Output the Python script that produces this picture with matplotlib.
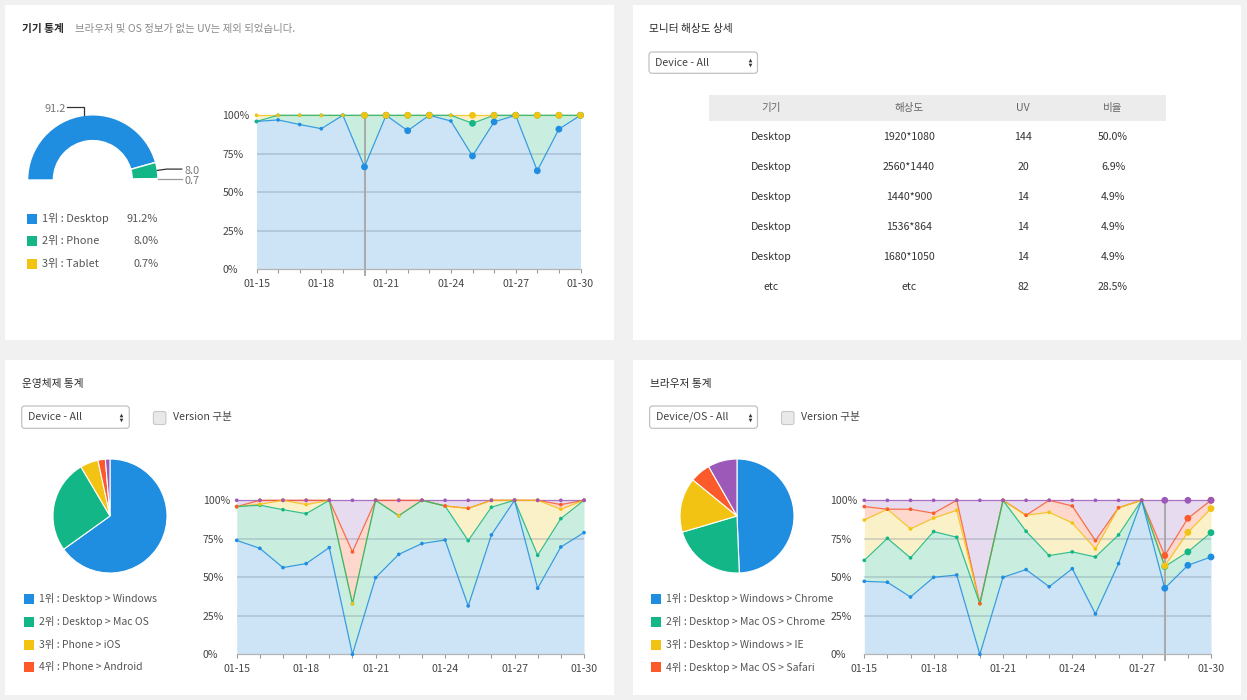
import numpy as np
import matplotlib
matplotlib.use("Agg")
import matplotlib.pyplot as plt
from matplotlib.patches import Rectangle, FancyBboxPatch

plt.rcParams['font.family'] = ['Noto Sans CJK KR', 'DejaVu Sans']

W, H = 1247, 700

# ---------------------------------------------------------------- data
dates = ['01-15', '01-16', '01-17', '01-18', '01-19', '01-20', '01-21', '01-22',
         '01-23', '01-24', '01-25', '01-26', '01-27', '01-28', '01-29', '01-30']

# 기기 통계 (device)
device_names = ['Desktop', 'Phone', 'Tablet']
device_share = [91.2, 8.0, 0.7]
device_desktop = [96.0, 97.0, 94.0, 91.3, 100.0, 66.5, 100.0, 90.0, 100.0, 96.3, 73.6, 95.7, 100.0, 64.0, 91.0, 100.0]
device_phone = [0.0, 3.0, 6.0, 8.7, 0.0, 33.5, 0.0, 10.0, 0.0, 3.7, 21.2, 4.3, 0.0, 36.0, 9.0, 0.0]
device_tablet = [4.0, 0.0, 0.0, 0.0, 0.0, 0.0, 0.0, 0.0, 0.0, 0.0, 5.2, 0.0, 0.0, 0.0, 0.0, 0.0]

# 운영체제 통계 (OS)
os_names = ['Desktop > Windows', 'Desktop > Mac OS', 'Phone > iOS', 'Phone > Android', 'etc']
os_share = [65.1, 26.4, 5.1, 2.1, 1.3]
os_windows = [74.0, 68.8, 56.3, 58.9, 69.3, 0.0, 49.8, 64.9, 71.9, 74.2, 31.4, 77.5, 100.0, 42.9, 69.7, 79.0]
os_macos = [21.9, 28.0, 37.6, 32.4, 30.7, 32.9, 50.2, 25.1, 28.1, 22.1, 42.4, 18.0, 0.0, 21.4, 18.4, 21.0]
os_ios = [0.0, 0.6, 6.1, 5.9, 0.0, 0.0, 0.0, 0.0, 0.0, 0.0, 21.0, 4.5, 0.0, 35.7, 6.1, 0.0]
os_android = [0.0, 2.6, 0.0, 2.8, 0.0, 33.6, 0.0, 10.0, 0.0, 0.0, 0.0, 0.0, 0.0, 0.0, 3.0, 0.0]
os_etc = [4.1, 0.0, 0.0, 0.0, 0.0, 33.5, 0.0, 0.0, 0.0, 3.7, 5.2, 0.0, 0.0, 0.0, 2.8, 0.0]

# 브라우저 통계 (browser)
browser_names = ['Desktop > Windows > Chrome', 'Desktop > Mac OS > Chrome',
                 'Desktop > Windows > IE', 'Desktop > Mac OS > Safari', 'etc']
browser_share = [49.4, 21.1, 15.5, 5.8, 8.3]
br_win_chrome = [47.4, 46.8, 37.2, 50.0, 51.5, 0.0, 50.0, 55.0, 43.9, 55.6, 26.2, 58.9, 100.0, 42.9, 57.8, 63.2]
br_mac_chrome = [13.6, 28.5, 25.4, 29.7, 24.5, 32.9, 50.0, 24.9, 20.2, 10.9, 37.0, 18.6, 0.0, 14.1, 8.7, 15.8]
br_win_ie = [26.2, 18.9, 18.8, 8.8, 17.5, 0.0, 0.0, 10.4, 28.1, 18.8, 5.2, 17.7, 0.0, 0.4, 12.7, 15.6]
br_mac_safari = [8.7, 0.0, 12.8, 3.1, 6.5, 0.0, 0.0, 0.0, 7.8, 11.0, 5.4, 0.0, 0.0, 6.7, 9.1, 5.4]
br_etc = [4.1, 5.8, 5.8, 8.4, 0.0, 67.1, 0.0, 9.7, 0.0, 3.7, 26.2, 4.8, 0.0, 35.9, 11.7, 0.0]

# 모니터 해상도 상세 (resolution table)
res_header = ['기기', '해상도', 'UV', '비율']
res_device = ['Desktop', 'Desktop', 'Desktop', 'Desktop', 'Desktop', 'etc']
res_resolution = ['1920*1080', '2560*1440', '1440*900', '1536*864', '1680*1050', 'etc']
res_uv = [144, 20, 14, 14, 14, 82]

# ---------------------------------------------------------------- style
LINES = ['#1f8de0', '#13b686', '#f2c313', '#fc5a2b', '#9c59b8']
FILLS = ['#cde3f6', '#c9eee0', '#fbf1c9', '#fed8cc', '#e7dbef']
BG = '#f1f1f1'

fig = plt.figure(figsize=(W / 100, H / 100), dpi=100)
fig.patch.set_facecolor(BG)

ax_bg = fig.add_axes([0, 0, 1, 1])
ax_bg.set_xlim(0, W)
ax_bg.set_ylim(H, 0)
ax_bg.axis('off')


def px_axes(x0, y0, x1, y1):
    a = fig.add_axes([x0 / W, 1 - y1 / H, (x1 - x0) / W, (y1 - y0) / H])
    a.patch.set_alpha(0)
    return a


# panels
for (x0, y0, x1, y1) in [(5, 5, 614, 340), (633, 5, 1241, 340),
                         (5, 360, 614, 695), (633, 360, 1241, 695)]:
    ax_bg.add_patch(Rectangle((x0, y0), x1 - x0, y1 - y0, fc='white', ec='none'))


def txt(x, y, s, size=7.8, color='#444444', **kw):
    ax_bg.text(x, y, s, va='center', fontsize=size, color=color, **kw)


def title(x, y, s, bold=False):
    txt(x, y, s, size=7.7, color='#2a2a2a', fontweight='bold' if bold else 'normal')


def dropdown(x0, y0, x1, y1, label):
    ax_bg.add_patch(FancyBboxPatch((x0, y0), x1 - x0, y1 - y0,
                                   boxstyle='round,pad=0,rounding_size=3',
                                   fc='white', ec='#c2c2c2', lw=0.9))
    cy = (y0 + y1) / 2
    txt(x0 + 6, cy, label, size=7.7)
    ax_bg.plot([x1 - 8], [cy - 2.6], marker='^', ms=2.6, color='#333333', mew=0)
    ax_bg.plot([x1 - 8], [cy + 2.6], marker='v', ms=2.6, color='#333333', mew=0)


def checkbox(x, y, label):
    ax_bg.add_patch(FancyBboxPatch((x, y), 12.5, 13,
                                   boxstyle='round,pad=0,rounding_size=2',
                                   fc='#e9e9e9', ec='#c8c8c8', lw=0.8))
    txt(x + 19.5, y + 5.5, label, size=7.7)


def legend(x, ys, names, colors, values=None, vx=None, size=7.8):
    for i, (yy, nm) in enumerate(zip(ys, names)):
        ax_bg.add_patch(Rectangle((x, yy - 5), 10, 10, fc=colors[i], ec='none'))
        txt(x + 15, yy, f'{i + 1}위 : {nm}', size=size, color='#555555')
        if values is not None:
            txt(vx, yy, f'{values[i]:.1f}%', size=size, color='#555555', ha='right')


def area_chart(rect, series, big=(), cross=None):
    ax = px_axes(*rect)
    x = np.arange(len(dates))
    cum = np.cumsum(np.array(series, dtype=float), axis=0)
    n = len(series)
    lower = np.zeros(len(x))
    for i in range(n):
        ax.fill_between(x, lower, cum[i], color=FILLS[i], lw=0, zorder=1)
        lower = cum[i]
    for yv in (25, 50, 75):
        ax.axhline(yv, color='#6f8295', alpha=0.3, lw=1.3, zorder=2)
    if cross is not None:
        ax.axvline(cross, ymin=-0.035, ymax=1, color='#a9a9a9', lw=1.4, zorder=2.5, clip_on=False)
    sizes = np.array([24 if k in big else 7 for k in x])
    for i in range(n):
        ax.plot(x, cum[i], color=LINES[i], lw=0.9, alpha=0.85, zorder=3 + (n - i) * 0.1, clip_on=False)
        ax.scatter(x, cum[i], s=sizes, color=LINES[i], zorder=5 + i * 0.1, clip_on=False, linewidths=0)
    ax.set_xlim(0, len(x) - 1)
    ax.set_ylim(0, 100)
    ax.set_xticks(x[::3])
    ax.set_xticklabels(dates[::3])
    ax.set_xticks([k for k in x if k % 3], minor=True)
    ax.tick_params(axis='x', which='both', length=3.2, width=0.8, color='#999999',
                   pad=4, labelsize=7.6, labelcolor='#444444')
    ax.set_yticks([0, 25, 50, 75, 100])
    ax.set_yticklabels(['0%', '25%', '50%', '75%', '100%'])
    ax.tick_params(axis='y', length=0, pad=24.5, labelsize=7.6, labelcolor='#444444')
    for lab in ax.get_yticklabels():
        lab.set_ha('left')
    for s in ('left', 'right', 'top'):
        ax.spines[s].set_visible(False)
    ax.spines['bottom'].set_color('#b5b5b5')
    ax.spines['bottom'].set_linewidth(0.9)
    ax.spines['bottom'].set_zorder(2.6)
    return ax


def pie(cx, cy, r, shares):
    m = 1.08
    ax = px_axes(cx - r * m, cy - r * m, cx + r * m, cy + r * m)
    ax.pie(shares, colors=LINES[:len(shares)], startangle=90, counterclock=False, radius=1,
           wedgeprops=dict(edgecolor='white', linewidth=0.8))
    ax.set_xlim(-m, m)
    ax.set_ylim(-m, m)
    return ax


# ---------------------------------------------------------------- panel 1: 기기 통계
title(22, 29, '기기 통계', bold=True)
txt(75, 29, '브라우저 및 OS 정보가 없는 UV는 제외 되었습니다.', size=7.5, color='#8a8a8a')

dcx, dcy, dr = 92.8, 180.0, 65.2
mx, my = 1.7, 1.3
ax_d = px_axes(dcx - dr * mx, dcy - dr * my, dcx + dr * mx, dcy + dr * my)
wedges, _ = ax_d.pie(device_share + [sum(device_share)],
                     colors=LINES[:3] + ['white'], startangle=180, counterclock=False, radius=1,
                     wedgeprops=dict(width=0.395, edgecolor='white', linewidth=1.0))
wedges[-1].set_visible(False)
ax_d.set_xlim(-mx, mx)
ax_d.set_ylim(-my, my)
for i, w in enumerate(wedges[:3]):
    th = np.deg2rad((w.theta1 + w.theta2) / 2)
    sx, sy = np.cos(th), np.sin(th)
    lab = f'{device_share[i]:.1f}'
    if sx < 0:
        ly = 1.124
        ax_d.plot([sx, sx, -0.40], [sy, ly, ly], color='#333333', lw=0.9, clip_on=False)
        ax_d.text(-0.42, ly - 0.03, lab, ha='right', va='center', fontsize=7.9, color='#777777')
    else:
        ly = sy + (0.02 if i == 1 else 0.0)
        lc = '#333333' if i == 1 else '#999999'
        ax_d.plot([sx, 1.133, 1.364], [sy, ly, ly], color=lc, lw=0.9, clip_on=False)
        ax_d.text(1.41, ly - 0.03, lab, ha='left', va='center', fontsize=7.9, color='#777777')

legend(26.7, [218.7, 241.3, 264.0], device_names, LINES, device_share, 158.3, size=7.9)

area_chart((256.5, 115.3, 580.5, 269.3), [device_desktop, device_phone, device_tablet],
           big={5, 6, 7, 8, 10, 11, 12, 13, 14, 15}, cross=5)

# ---------------------------------------------------------------- panel 2: 모니터 해상도 상세
title(649, 29, '모니터 해상도 상세')
dropdown(649, 52, 757.5, 73.3, 'Device - All')

ax_bg.add_patch(Rectangle((709, 95), 457, 25.5, fc='#ececec', ec='none'))
col_x = [771, 909, 1023, 1113]
for cx_, h in zip(col_x, res_header):
    txt(cx_, 108, h, size=7.6, color='#666666', ha='center')
total_uv = sum(res_uv)
for r in range(len(res_uv)):
    yy = 136.7 + r * 30.1
    cells = [res_device[r], res_resolution[r], str(res_uv[r]), f'{res_uv[r] / total_uv * 100:.1f}%']
    for cx_, c in zip(col_x, cells):
        txt(cx_, yy, c, size=7.6, color='#333333', ha='center')

# ---------------------------------------------------------------- panel 3: 운영체제 통계
title(22, 384, '운영체제 통계')
dropdown(21.7, 406, 129.3, 428.3, 'Device - All')
checkbox(153.4, 411.5, 'Version 구분')
pie(110, 516, 57, os_share)
legend(24, [599, 621.7, 644.7, 667.3], os_names[:4], LINES, size=7.5)
area_chart((236.7, 500.3, 584, 654.3), [os_windows, os_macos, os_ios, os_android, os_etc])

# ---------------------------------------------------------------- panel 4: 브라우저 통계
title(649.6, 384, '브라우저 통계')
dropdown(649.6, 406, 757.5, 428.3, 'Device/OS - All')
checkbox(781.5, 411.5, 'Version 구분')
pie(737, 516, 57, browser_share)
legend(651, [599, 621.7, 644.7, 667.3], browser_names[:4], LINES, size=7.5)
area_chart((864.3, 500.3, 1211, 654.3), [br_win_chrome, br_mac_chrome, br_win_ie, br_mac_safari, br_etc],
           big={13, 14, 15}, cross=13)

fig.savefig('out.png', dpi=100, facecolor=fig.get_facecolor())
